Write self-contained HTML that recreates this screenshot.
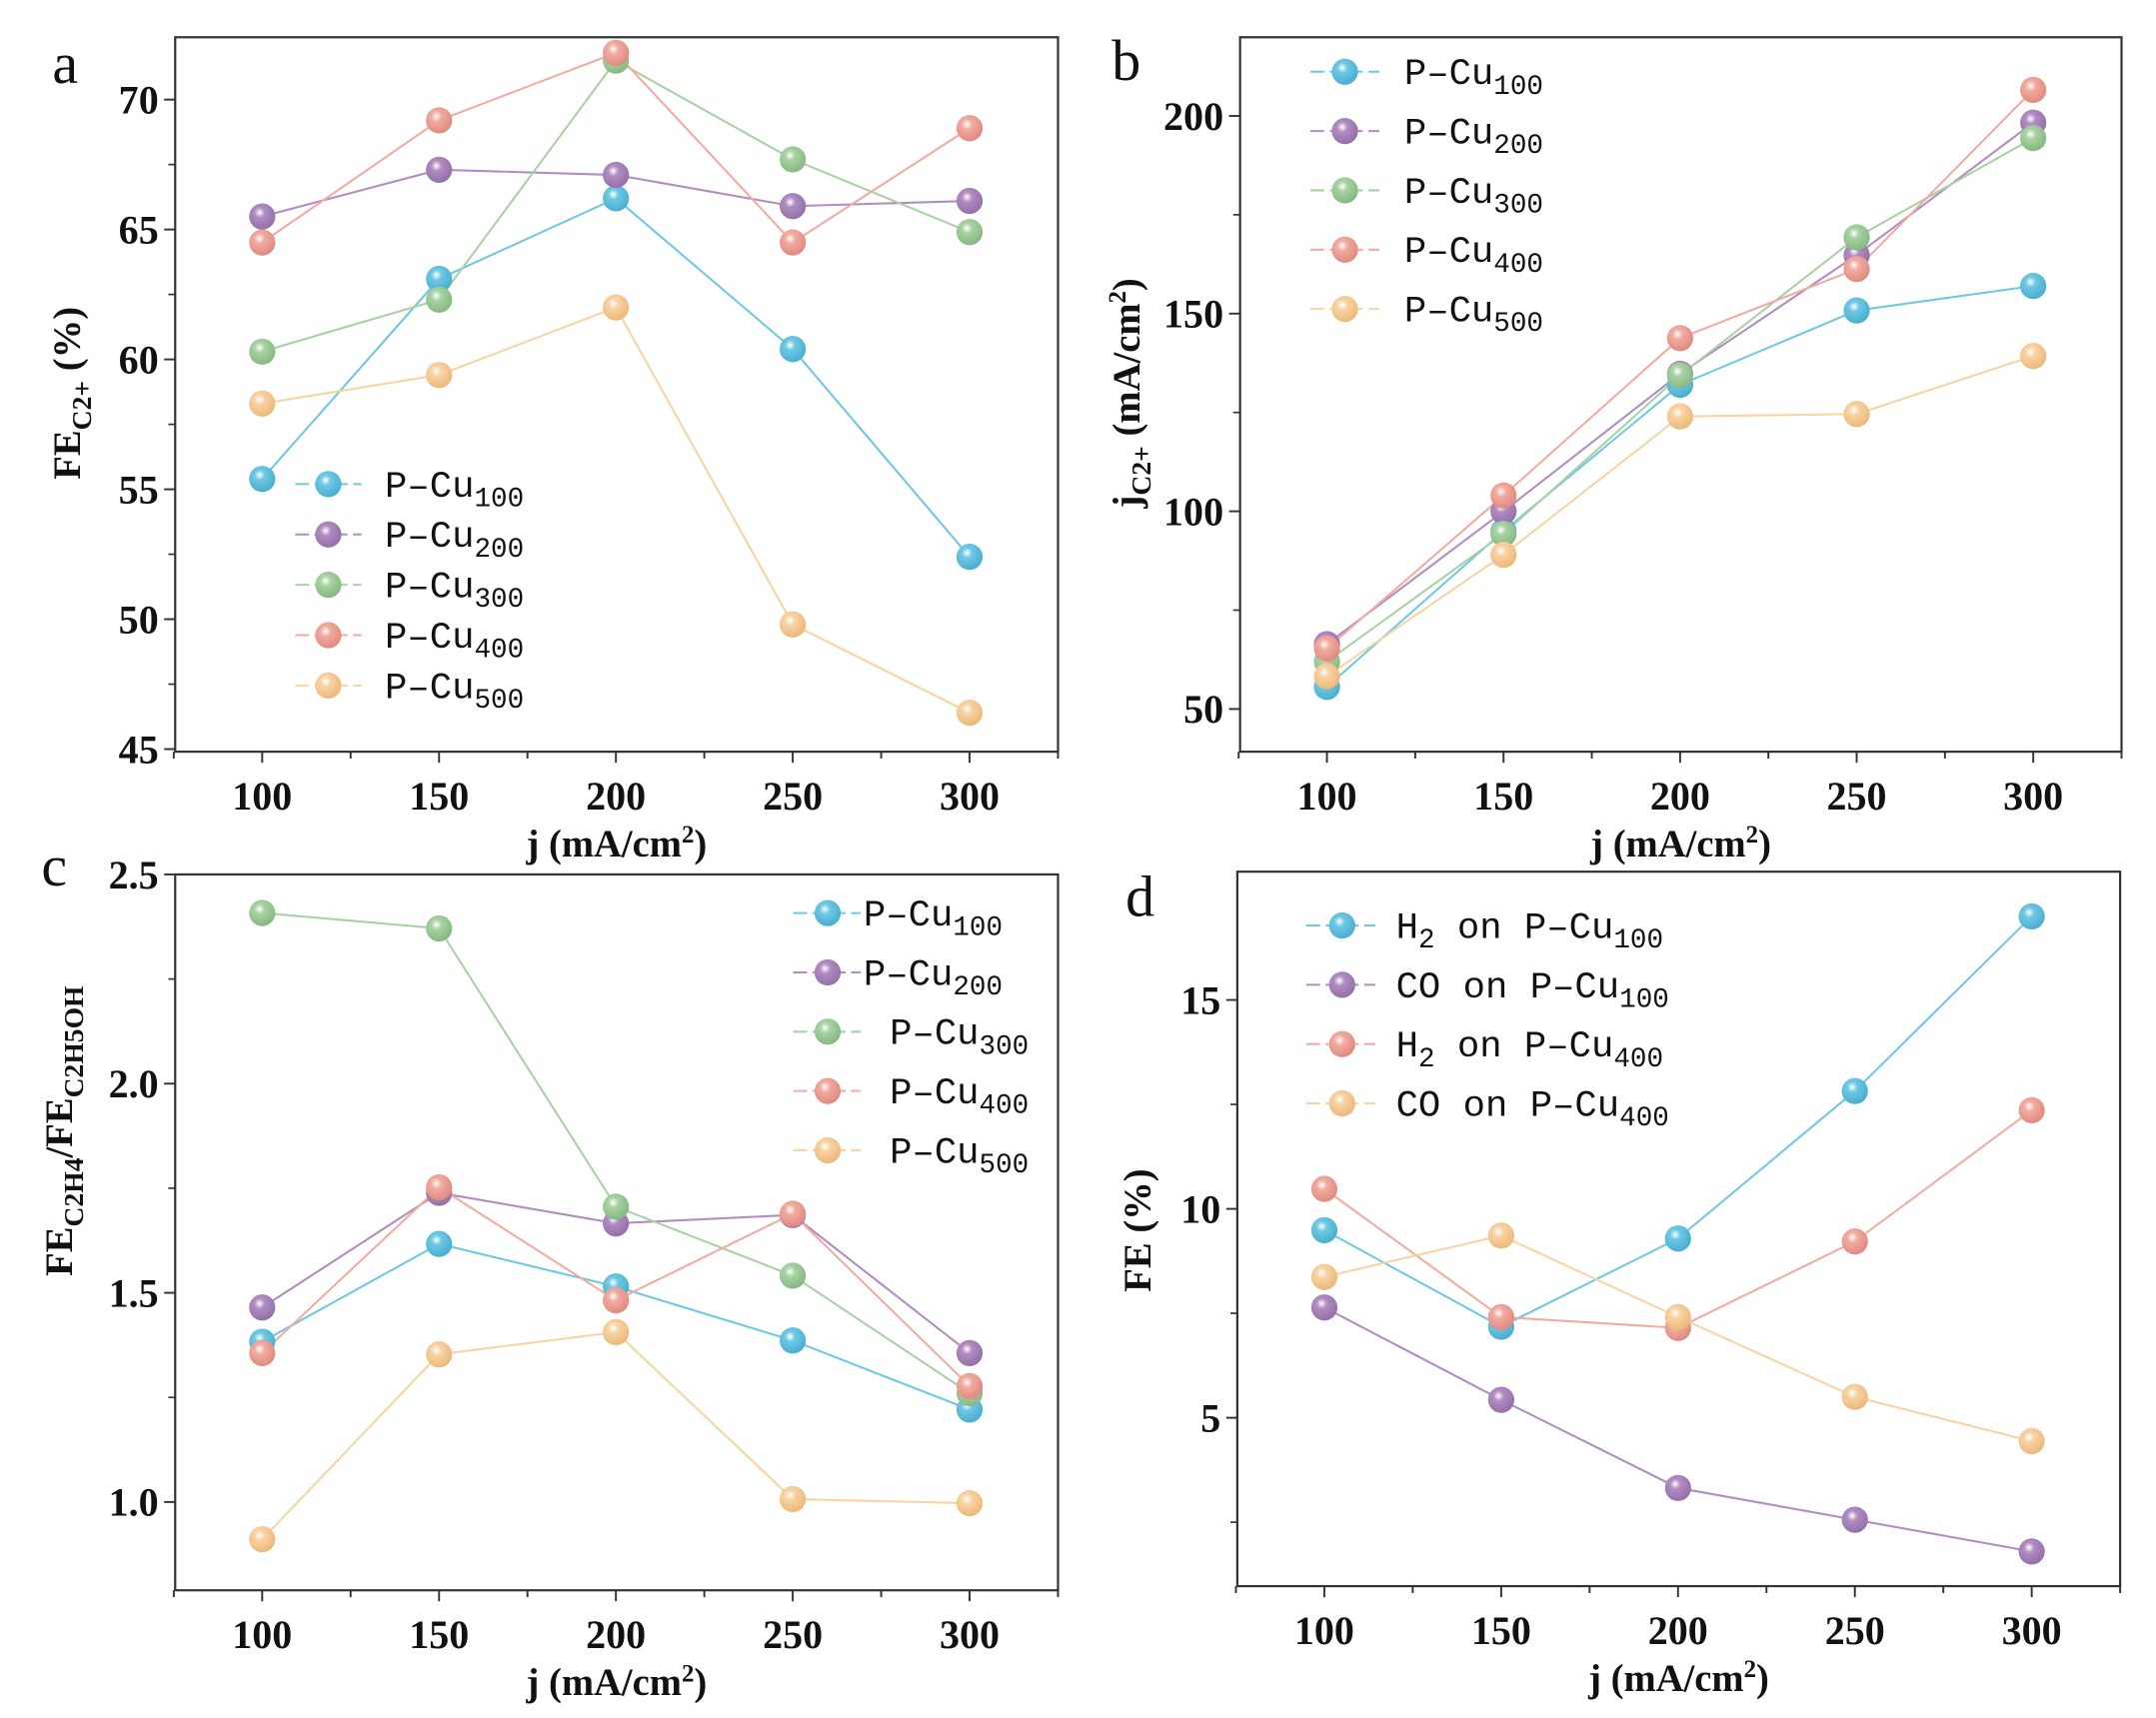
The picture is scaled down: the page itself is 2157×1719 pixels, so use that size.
<!DOCTYPE html>
<html><head><meta charset="utf-8"><style>
html,body{margin:0;padding:0;background:#fff;}
svg{display:block;}
.tick{font-family:"Liberation Serif",serif;font-weight:bold;font-size:29px;fill:#111;}
.title{font-family:"Liberation Serif",serif;font-weight:bold;font-size:28px;fill:#111;}
.leg{font-family:"Liberation Mono",monospace;font-size:27px;fill:#111;}
.letter{font-family:"Liberation Serif",serif;font-size:42px;fill:#111;}
</style></head><body>
<svg id="fig" width="2157" height="1719" viewBox="0 0 1563 1245.6" preserveAspectRatio="none" xmlns="http://www.w3.org/2000/svg">
<defs></defs>
</svg>
<script>
const categories=[100,150,200,250,300];
const xTicks=[100,150,200,250,300];
const seriesNamesABC=["P-Cu100","P-Cu200","P-Cu300","P-Cu400","P-Cu500"];
const aCu100=[55.4,63.1,66.2,60.4,52.4];
const aCu200=[65.5,67.3,67.1,65.9,66.1];
const aCu300=[60.3,62.3,71.5,67.7,64.9];
const aCu400=[64.5,69.2,71.8,64.5,68.9];
const aCu500=[58.3,59.4,62.0,49.8,46.4];
const bCu100=[55.6,95,132,150.8,157];
const bCu200=[66.4,100,134.8,164.8,198.3];
const bCu300=[62,94.3,134.4,169.3,194.4];
const bCu400=[65.3,104,143.8,161.3,206.6];
const bCu500=[58.3,89,124,124.6,139.3];
const cCu100=[1.383,1.617,1.515,1.386,1.221];
const cCu200=[1.465,1.739,1.666,1.686,1.356];
const cCu300=[2.408,2.371,1.706,1.541,1.26];
const cCu400=[1.356,1.752,1.482,1.689,1.277];
const cCu500=[0.911,1.353,1.406,1.007,0.997];
const dH2Cu100=[9.49,7.18,9.29,12.82,17.0];
const dCOCu100=[7.64,5.43,3.32,2.56,1.8];
const dH2Cu400=[10.48,7.41,7.15,9.22,12.36];
const dCOCu400=[8.37,9.36,7.41,5.5,4.44];
const aTicks=[45,50,55,60,65,70];
const bTicks=[50,100,150,200];
const cTicks=[1.0,1.5,2.0,2.5];
const dTicks=[5,10,15];

const NS="http://www.w3.org/2000/svg";
const svg=document.getElementById('fig');
const defs=svg.querySelector('defs');
const colors=["#6ec8e4","#b08cc2","#a8d2a3","#f2aba0","#f8d3a3"];
const dark=["#4aaed0","#9470a8","#86b882","#e08a7e","#ecb87a"];
colors.forEach((c,i)=>{
  const g=document.createElementNS(NS,'radialGradient');
  g.setAttribute('id','g'+i);g.setAttribute('cx','0.4');g.setAttribute('cy','0.35');g.setAttribute('r','0.65');
  g.innerHTML='<stop offset="0" stop-color="#ffffff"/><stop offset="0.3" stop-color="'+c+'"/><stop offset="1" stop-color="'+dark[i]+'"/>';
  defs.appendChild(g);
});
function el(tag,attrs,parent){const e=document.createElementNS(NS,tag);for(const k in attrs)e.setAttribute(k,attrs[k]);(parent||svg).appendChild(e);return e;}

function panel(cfg){
  const g=el('g',{});
  
  
  const {L,R,T,B,xmin,xmax,ymin,ymax}=cfg;
  const sx=v=>L+(v-xmin)/(xmax-xmin)*(R-L);
  const sy=v=>B-(v-ymin)/(ymax-ymin)*(B-T);
  const frame=el('rect',{x:L,y:T,width:R-L,height:B-T,fill:'none',stroke:'#333','stroke-width':1.6},g);
  
  
  for(let v=75;v<=325;v+=25){
    const big=v%50===0;
    el('line',{x1:sx(v),x2:sx(v),y1:B,y2:B+(big?8:5),stroke:'#333','stroke-width':1.4},g);
  }
  xTicks.forEach(v=>{const t=el('text',{x:sx(v),y:B+42,'text-anchor':'middle',class:'tick'},g);t.textContent=v;
    });
  cfg.yTicks.forEach((v,i)=>{
    el('line',{x1:L-8,x2:L,y1:sy(v),y2:sy(v),stroke:'#333','stroke-width':1.4},g);
    const t=el('text',{x:L-12,y:sy(v)+10,'text-anchor':'end',class:'tick'},g);
    t.textContent=cfg.fmt?cfg.fmt(v):v;
    
    if(i<cfg.yTicks.length-1){const m=(v+cfg.yTicks[i+1])/2;el('line',{x1:L-5,x2:L,y1:sy(m),y2:sy(m),stroke:'#333','stroke-width':1.2},g);}
  });
  if(cfg.minorBelow){const step=cfg.yTicks[1]-cfg.yTicks[0];const m=cfg.yTicks[0]-step/2;if(m>ymin)el('line',{x1:L-5,x2:L,y1:sy(m),y2:sy(m),stroke:'#333','stroke-width':1.2},g);}
  const xt=el('text',{x:(L+R)/2,y:B+76,'text-anchor':'middle',class:'title'},g);
  xt.innerHTML='j (mA/cm<tspan dy="-10" font-size="18">2</tspan><tspan dy="10">)</tspan>';
  
  const yt=el('text',{transform:'translate('+cfg.ytx+','+cfg.yty+') rotate(-90)','text-anchor':'middle',class:'title'},g);
  yt.innerHTML=cfg.ytitle;
  
  const lt=el('text',{x:cfg.letter[0],y:cfg.letter[1],class:'letter'},g);lt.textContent=cfg.letter[2];
  
  cfg.series.forEach((s,i)=>{
    const ci=s.c;
    const pts=categories.map((c,k)=>sx(c)+','+sy(s.d[k])).join(' ');
    const pl=el('polyline',{points:pts,fill:'none',stroke:colors[ci],'stroke-width':1.5},g);
    
  });
  cfg.series.forEach((s,i)=>{
    const ci=s.c;
    categories.forEach((c,k)=>{
      const m=el('circle',{cx:sx(c),cy:sy(s.d[k]),r:9.5,fill:'url(#g'+ci+')'},g);
      
    });
  });
  const lg=cfg.legend;
  cfg.series.forEach((s,i)=>{
    const y=lg.y0+i*lg.dy;
    el('line',{x1:lg.x1,x2:lg.x2,y1:y,y2:y,stroke:colors[s.c],'stroke-width':1.5,'stroke-dasharray':'10 4'},g);
    const m=el('circle',{cx:lg.mx,cy:y,r:9.5,fill:'url(#g'+s.c+')'},g);
    
    const t=el('text',{x:(lg.tx[i]!==undefined?lg.tx[i]:lg.tx),y:y+9,class:'leg'},g);
    t.innerHTML=s.label;
    
  });
}
const sub=n=>'<tspan dy="7" font-size="20">'+n+'</tspan>';
const lab=n=>'P\u2013Cu'+sub(n);
panel({name:'panel-a',L:127,R:767,T:27,B:545,xmin:75.4,xmax:325,ymin:44.9,ymax:72.4,yTicks:aTicks,
  ytitle:'FE<tspan dy="8" font-size="20">C2+</tspan><tspan dy="-8"> (%)</tspan>',ytx:58,yty:285,letter:[38,60,'a'],
  series:[{key:'p-cu100',c:0,d:aCu100,label:lab(100)},{key:'p-cu200',c:1,d:aCu200,label:lab(200)},{key:'p-cu300',c:2,d:aCu300,label:lab(300)},{key:'p-cu400',c:3,d:aCu400,label:lab(400)},{key:'p-cu500',c:4,d:aCu500,label:lab(500)}],
  legend:{x1:214,x2:262,mx:238,tx:279,y0:351,dy:36.5}});
panel({name:'panel-b',L:899,R:1538,T:27,B:545,xmin:75.4,xmax:325,ymin:39.2,ymax:219.9,yTicks:bTicks,
  ytitle:'j<tspan dy="8" font-size="20">C2+</tspan><tspan dy="-8"> (mA/cm</tspan><tspan dy="-10" font-size="18">2</tspan><tspan dy="10">)</tspan>',ytx:826,yty:285,letter:[806,58,'b'],
  series:[{key:'p-cu100',c:0,d:bCu100,label:lab(100)},{key:'p-cu200',c:1,d:bCu200,label:lab(200)},{key:'p-cu300',c:2,d:bCu300,label:lab(300)},{key:'p-cu400',c:3,d:bCu400,label:lab(400)},{key:'p-cu500',c:4,d:bCu500,label:lab(500)}],
  legend:{x1:950,x2:1000,mx:975,tx:1018,y0:52,dy:43}});
panel({name:'panel-c',L:127,R:767,T:634,B:1153,xmin:75.4,xmax:325,ymin:0.789,ymax:2.5,yTicks:cTicks,fmt:v=>v.toFixed(1),minorBelow:true,
  ytitle:'FE<tspan dy="8" font-size="20">C2H4</tspan><tspan dy="-8">/FE</tspan><tspan dy="8" font-size="20">C2H5OH</tspan>',ytx:52,yty:820,letter:[30,642,'c'],
  series:[{key:'p-cu100',c:0,d:cCu100,label:lab(100)},{key:'p-cu200',c:1,d:cCu200,label:lab(200)},{key:'p-cu300',c:2,d:cCu300,label:lab(300)},{key:'p-cu400',c:3,d:cCu400,label:lab(400)},{key:'p-cu500',c:4,d:cCu500,label:lab(500)}],
  legend:{x1:575,x2:624,mx:600,tx:[626,626,645,645,645],y0:662,dy:43}});
panel({name:'panel-d',L:897,R:1537,T:632,B:1150,xmin:75.4,xmax:325,ymin:0.97,ymax:18.07,yTicks:dTicks,minorBelow:true,
  ytitle:'FE (%)',ytx:834,yty:892,letter:[816,664,'d'],
  series:[{key:'h2-p-cu100',c:0,d:dH2Cu100,label:'H'+sub(2)+'<tspan dy="-7"> on </tspan>'+lab(100)},{key:'co-p-cu100',c:1,d:dCOCu100,label:'CO on '+lab(100)},{key:'h2-p-cu400',c:3,d:dH2Cu400,label:'H'+sub(2)+'<tspan dy="-7"> on </tspan>'+lab(400)},{key:'co-p-cu400',c:4,d:dCOCu400,label:'CO on '+lab(400)}],
  legend:{x1:947,x2:997,mx:973,tx:1012,y0:671,dy:43}});
</script>
</body></html>
